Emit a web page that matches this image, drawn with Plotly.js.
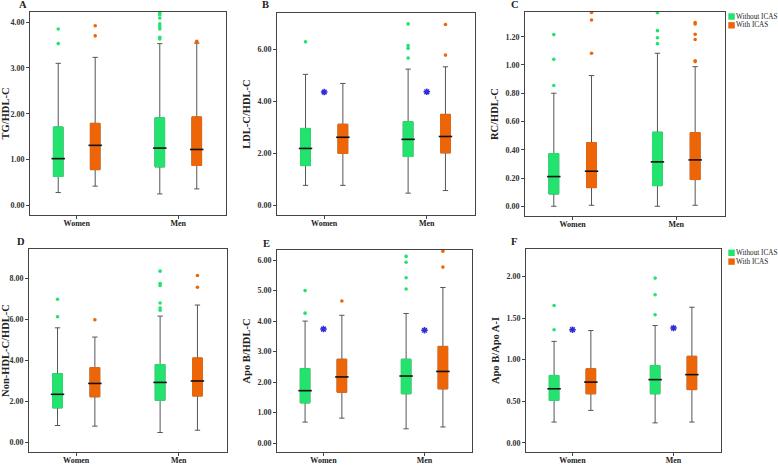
<!DOCTYPE html>
<html><head><meta charset="utf-8">
<script src="https://cdn.plot.ly/plotly-3.0.1.min.js"></script>
<style>html,body{margin:0;padding:0;background:#fff}#chart{width:778px;height:465px}</style>
</head><body><div id="chart"></div>
<script>
const categories = ['Women', 'Men'];
const groupNames = ['Without ICAS', 'With ICAS'];
const panelLetters = ['A', 'B', 'C', 'D', 'E', 'F'];
const yTitles = ['TG/HDL-C', 'LDL-C/HDL-C', 'RC/HDL-C', 'Non-HDL-C/HDL-C', 'Apo B/HDL-C', 'Apo B/Apo A-I'];

// A: TG/HDL-C  (values per category: [Women, Men])
const tgNoLower = [0.28, 0.25], tgNoQ1 = [0.63, 0.84], tgNoMed = [1.02, 1.25], tgNoQ3 = [1.71, 1.91], tgNoUpper = [3.10, 3.53];
const tgNoOutWomen = [3.53, 3.85], tgNoOutMen = [3.63, 3.67, 3.85, 3.90, 3.96, 4.09, 4.16, 4.20];
const tgYesLower = [0.42, 0.36], tgYesQ1 = [0.78, 0.87], tgYesMed = [1.31, 1.22], tgYesQ3 = [1.79, 1.93], tgYesUpper = [3.23, 3.54];
const tgYesOutWomen = [3.70, 3.92], tgYesOutMen = [3.56, 3.58];

// B: LDL-C/HDL-C
const ldlNoLower = [0.77, 0.47], ldlNoQ1 = [1.53, 1.88], ldlNoMed = [2.19, 2.54], ldlNoQ3 = [2.96, 3.22], ldlNoUpper = [5.04, 5.24];
const ldlNoOutWomen = [6.29], ldlNoOutMen = [5.67, 6.04, 6.15, 6.98];
const ldlYesLower = [0.77, 0.57], ldlYesQ1 = [2.00, 2.02], ldlYesMed = [2.62, 2.65], ldlYesQ3 = [3.12, 3.50], ldlYesUpper = [4.69, 5.33];
const ldlYesOutWomen = [], ldlYesOutMen = [5.78, 6.96];
const ldlStars = [4.36, 4.37];

// C: RC/HDL-C
const rcNoLower = [0.0, 0.0], rcNoQ1 = [0.087, 0.146], rcNoMed = [0.21, 0.314], rcNoQ3 = [0.373, 0.524], rcNoUpper = [0.80, 1.083];
const rcNoOutWomen = [0.855, 1.04, 1.215], rcNoOutMen = [1.151, 1.193, 1.243, 1.37];
const rcYesLower = [0.007, 0.007], rcYesQ1 = [0.132, 0.189], rcYesMed = [0.248, 0.328], rcYesQ3 = [0.45, 0.521], rcYesUpper = [0.925, 0.988];
const rcYesOutWomen = [1.083, 1.318, 1.372], rcYesOutMen = [1.024, 1.03, 1.18, 1.217, 1.29, 1.30];

// D: Non-HDL-C/HDL-C
const nhNoLower = [0.83, 0.49], nhNoQ1 = [1.69, 2.06], nhNoMed = [2.35, 2.93], nhNoQ3 = [3.35, 3.80], nhNoUpper = [5.59, 6.16];
const nhNoOutWomen = [6.13, 6.98], nhNoOutMen = [6.45, 6.55, 6.80, 7.65, 7.75, 8.35];
const nhYesLower = [0.80, 0.60], nhYesQ1 = [2.23, 2.27], nhYesMed = [2.88, 3.00], nhYesQ3 = [3.65, 4.12], nhYesUpper = [5.14, 6.70];
const nhYesOutWomen = [5.98], nhYesOutMen = [7.57, 8.14];

// E: Apo B/HDL-C
const abhNoLower = [0.69, 0.47], abhNoQ1 = [1.32, 1.62], abhNoMed = [1.72, 2.20], abhNoQ3 = [2.44, 2.75], abhNoUpper = [4.00, 4.25];
const abhNoOutWomen = [4.26, 5.00], abhNoOutMen = [5.05, 5.42, 5.93, 6.12];
const abhYesLower = [0.82, 0.53], abhYesQ1 = [1.67, 1.78], abhYesMed = [2.17, 2.35], abhYesQ3 = [2.75, 3.17], abhYesUpper = [4.19, 5.10];
const abhYesOutWomen = [4.66], abhYesOutMen = [5.77, 6.29];
const abhStars = [3.74, 3.70];

// F: Apo B/Apo A-I
const abaNoLower = [0.25, 0.24], abaNoQ1 = [0.51, 0.59], abaNoMed = [0.65, 0.76], abaNoQ3 = [0.81, 0.93], abaNoUpper = [1.22, 1.41];
const abaNoOutWomen = [1.36, 1.65], abaNoOutMen = [1.54, 1.78, 1.98];
const abaYesLower = [0.39, 0.25], abaYesQ1 = [0.59, 0.64], abaYesMed = [0.73, 0.82], abaYesQ3 = [0.89, 1.04], abaYesUpper = [1.35, 1.63];
const abaYesOutWomen = [], abaYesOutMen = [];
const abaStars = [1.36, 1.38];

// ---------- assembly ----------
const W = 778, H = 465;
const FONT = 'Liberation Serif, Times New Roman, serif';
const COLORS = ['#22e36d', '#ee6508'];
const STAR_COLOR = '#2e2ed8';
const OFFSET = 0.182, BOXW = 0.095, MEDW = 9.6;

const series = [
  [{lower: tgNoLower, q1: tgNoQ1, med: tgNoMed, q3: tgNoQ3, upper: tgNoUpper, out: [tgNoOutWomen, tgNoOutMen]},
   {lower: tgYesLower, q1: tgYesQ1, med: tgYesMed, q3: tgYesQ3, upper: tgYesUpper, out: [tgYesOutWomen, tgYesOutMen]}],
  [{lower: ldlNoLower, q1: ldlNoQ1, med: ldlNoMed, q3: ldlNoQ3, upper: ldlNoUpper, out: [ldlNoOutWomen, ldlNoOutMen]},
   {lower: ldlYesLower, q1: ldlYesQ1, med: ldlYesMed, q3: ldlYesQ3, upper: ldlYesUpper, out: [ldlYesOutWomen, ldlYesOutMen]}],
  [{lower: rcNoLower, q1: rcNoQ1, med: rcNoMed, q3: rcNoQ3, upper: rcNoUpper, out: [rcNoOutWomen, rcNoOutMen]},
   {lower: rcYesLower, q1: rcYesQ1, med: rcYesMed, q3: rcYesQ3, upper: rcYesUpper, out: [rcYesOutWomen, rcYesOutMen]}],
  [{lower: nhNoLower, q1: nhNoQ1, med: nhNoMed, q3: nhNoQ3, upper: nhNoUpper, out: [nhNoOutWomen, nhNoOutMen]},
   {lower: nhYesLower, q1: nhYesQ1, med: nhYesMed, q3: nhYesQ3, upper: nhYesUpper, out: [nhYesOutWomen, nhYesOutMen]}],
  [{lower: abhNoLower, q1: abhNoQ1, med: abhNoMed, q3: abhNoQ3, upper: abhNoUpper, out: [abhNoOutWomen, abhNoOutMen]},
   {lower: abhYesLower, q1: abhYesQ1, med: abhYesMed, q3: abhYesQ3, upper: abhYesUpper, out: [abhYesOutWomen, abhYesOutMen]}],
  [{lower: abaNoLower, q1: abaNoQ1, med: abaNoMed, q3: abaNoQ3, upper: abaNoUpper, out: [abaNoOutWomen, abaNoOutMen]},
   {lower: abaYesLower, q1: abaYesQ1, med: abaYesMed, q3: abaYesQ3, upper: abaYesUpper, out: [abaYesOutWomen, abaYesOutMen]}]
];
const stars = [null, ldlStars, null, null, abhStars, abaStars];

// panel frames in pixels [x0, x1, y0(top), y1(bottom)]
const frames = [[30, 226, 12, 215], [277, 475, 13, 215], [525, 725, 12, 216],
                [29, 227, 249, 452], [277, 472, 250, 452], [526, 721, 249, 452]];
const yRanges = [[-0.21, 4.22], [-0.37, 7.40], [-0.069, 1.375], [-0.46, 9.43], [-0.29, 6.33], [-0.11, 2.33]];
const yDticks = [1, 2, 0.2, 2, 1, 0.5];
const letterPos = [[23, 5], [265, 5], [515, 5], [21, 242], [266, 243], [514, 242]];

const traces = [];
const layout = {
  width: W, height: H, margin: {l: 0, r: 0, t: 0, b: 0},
  paper_bgcolor: '#fff', plot_bgcolor: '#fff', showlegend: false,
  font: {family: FONT, color: '#222'},
  annotations: [], shapes: []
};

series.forEach((pair, p) => {
  const sfx = p === 0 ? '' : String(p + 1);
  const xa = 'x' + sfx, ya = 'y' + sfx;
  pair.forEach((s, g) => {
    const off = g === 0 ? -OFFSET : OFFSET;
    const xs = categories.map((c, i) => i + off);
    const col = COLORS[g];
    const common = {xaxis: xa, yaxis: ya, showlegend: false, hoverinfo: 'skip', name: groupNames[g]};
    traces.push(Object.assign({type: 'box', x: xs, q1: s.q1, median: s.med, q3: s.q3,
      lowerfence: s.lower, upperfence: s.upper, width: BOXW, whiskerwidth: 0.55,
      line: {color: '#555', width: 1}, fillcolor: 'rgba(0,0,0,0)', boxpoints: false}, common));
    traces.push(Object.assign({type: 'box', x: xs, q1: s.q1, median: s.med, q3: s.q3,
      lowerfence: s.q1, upperfence: s.q3, width: BOXW, whiskerwidth: 0,
      line: {color: col, width: 1}, fillcolor: col, boxpoints: false}, common));
    traces.push(Object.assign({type: 'scatter', mode: 'markers', x: xs, y: s.med,
      marker: {symbol: 'line-ew', size: MEDW, color: '#111', line: {color: '#111', width: 1.6}}}, common));
    const ox = [], oy = [];
    s.out.forEach((arr, i) => arr.forEach(v => { ox.push(i + off); oy.push(v); }));
    traces.push(Object.assign({type: 'scatter', mode: 'markers', x: ox, y: oy, cliponaxis: true,
      marker: {symbol: 'circle', size: 3.6, color: col}}, common));
  });
  if (stars[p]) {
    traces.push({type: 'scatter', mode: 'markers', x: categories.map((c, i) => i), y: stars[p],
      xaxis: xa, yaxis: ya, showlegend: false, hoverinfo: 'skip',
      marker: {symbol: 'asterisk-open', size: 5.5, color: STAR_COLOR, line: {color: STAR_COLOR, width: 1.5}}});
  }
  const f = frames[p];
  layout['xaxis' + sfx] = {
    domain: [f[0] / W, f[1] / W], anchor: ya, range: [-0.46, 1.47],
    tickvals: categories.map((c, i) => i), ticktext: categories,
    ticks: 'outside', ticklen: 3, tickwidth: 1, tickcolor: '#444', ticklabelstandoff: -3,
    showline: true, mirror: true, linecolor: '#444', linewidth: 1,
    showgrid: false, zeroline: false, fixedrange: true,
    tickfont: {family: FONT, size: 8, weight: 'bold', color: '#222'}
  };
  layout['yaxis' + sfx] = {
    domain: [1 - f[3] / H, 1 - f[2] / H], anchor: xa, range: yRanges[p],
    tick0: 0, dtick: yDticks[p], tickformat: '.2f',
    ticks: 'outside', ticklen: 3, tickwidth: 1, tickcolor: '#444',
    showline: true, mirror: true, linecolor: '#444', linewidth: 1,
    showgrid: false, zeroline: false, fixedrange: true, automargin: false,
    tickfont: {family: FONT, size: 8, weight: 'bold', color: '#333'},
    title: {text: yTitles[p], standoff: 4, font: {family: FONT, size: 10.5, weight: 'bold', color: '#222'}}
  };
  layout.annotations.push({xref: 'paper', yref: 'paper', x: letterPos[p][0] / W, y: 1 - letterPos[p][1] / H,
    text: panelLetters[p], showarrow: false, xanchor: 'center', yanchor: 'middle',
    font: {family: FONT, size: 10.5, weight: 'bold', color: '#222'}});
});

// legends (rows 1 and 2)
const legendTops = [16.5, 252.8];
legendTops.forEach(ty => {
  groupNames.forEach((nm, g) => {
    const cy = ty + g * 8.8;
    layout.shapes.push({type: 'rect', xref: 'paper', yref: 'paper', x0: 728.3 / W, x1: 734.8 / W,
      y0: 1 - (cy + 3.2) / H, y1: 1 - (cy - 3.2) / H, fillcolor: COLORS[g], line: {width: 0}});
    layout.annotations.push({xref: 'paper', yref: 'paper', x: 734.6 / W, y: 1 - cy / H, text: nm,
      showarrow: false, xanchor: 'left', yanchor: 'middle', borderpad: 0,
      font: {family: FONT, size: 7.2, color: '#222'}});
  });
});

Plotly.newPlot('chart', traces, layout, {staticPlot: true, displayModeBar: false});
</script></body></html>
